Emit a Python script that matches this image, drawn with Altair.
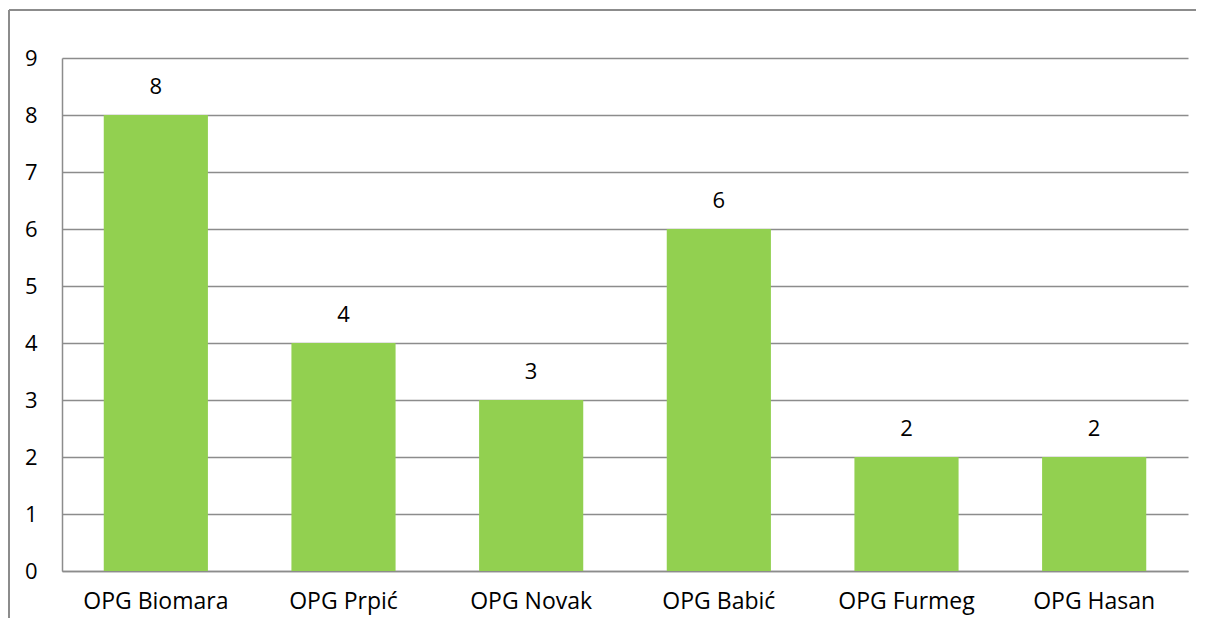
import altair as alt
import pandas as pd

categories = ["OPG Biomara", "OPG Prpić", "OPG Novak", "OPG Babić", "OPG Furmeg", "OPG Hasan"]
values = [8, 4, 3, 6, 2, 2]
y_ticks = [0, 1, 2, 3, 4, 5, 6, 7, 8, 9]

df = pd.DataFrame({"cat": categories, "val": values})

FONT = "Open Sans"
GRAY = "#8c8c8c"

base = alt.Chart(df)

bars = base.mark_bar(color="#92D050").encode(
    x=alt.X("cat:N", sort=categories, title=None,
            scale=alt.Scale(paddingInner=0.445, paddingOuter=0.2225),
            axis=alt.Axis(labelAngle=0, labelFont=FONT, labelFontSize=23, labelColor="#000000",
                          labelPadding=19, ticks=False, domainColor=GRAY, domainWidth=1.5)),
    y=alt.Y("val:Q", title=None,
            scale=alt.Scale(domain=[0, 9], nice=False),
            axis=alt.Axis(values=y_ticks, format="d", labelFont=FONT, labelFontSize=22,
                          labelColor="#000000", labelPadding=25, ticks=False,
                          domainColor=GRAY, domainWidth=1.5, gridColor=GRAY, gridWidth=1.5)),
)

text = base.mark_text(baseline="bottom", dy=-16, font=FONT, fontSize=22, color="#000000").encode(
    x=alt.X("cat:N", sort=categories),
    y=alt.Y("val:Q"),
    text=alt.Text("val:Q"),
)

frame_df = pd.DataFrame({"a": [0]})
frame_top = alt.Chart(frame_df).mark_rule(color=GRAY, strokeWidth=2).encode(
    x=alt.value(-53), x2=alt.value(1134), y=alt.value(-48)
)
frame_left = alt.Chart(frame_df).mark_rule(color=GRAY, strokeWidth=2).encode(
    x=alt.value(-53), y=alt.value(-48), y2=alt.value(560)
)

chart = alt.layer(bars, text, frame_top, frame_left).properties(
    width=1126, height=513,
    autosize=alt.AutoSizeParams(type="none"),
    padding={"left": 54, "top": 50, "right": 10, "bottom": 48},
).configure(background="white").configure_view(stroke=None)

chart.save("out.html", embed_options={"renderer": "svg", "actions": False})
